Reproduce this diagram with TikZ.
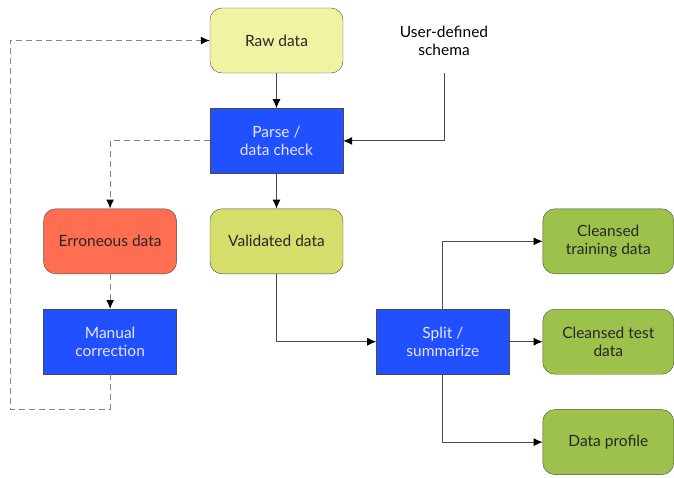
\documentclass[tikz,border=0pt]{standalone}
\usepackage{fontspec}
\setmainfont{Lato}
\usepackage{xcolor}
\definecolor{rawyellow}{HTML}{F0F4A2}
\definecolor{validgreen}{HTML}{D5DE6B}
\definecolor{errred}{HTML}{FF6E50}
\definecolor{procblue}{HTML}{2050FF}
\definecolor{outgreen}{HTML}{9DC24C}
\definecolor{edgegray}{HTML}{4A4A4A}
\definecolor{dashgray}{HTML}{858585}
\usetikzlibrary{arrows.meta,positioning}

\begin{document}
\begin{tikzpicture}[x=1pt,y=1pt,font=\fontsize{15.5}{18}\selectfont,node distance=35pt and 33pt,
  data/.style={draw=edgegray,rounded corners=12pt,align=center,text=black!85,
    minimum width=133pt,minimum height=65pt,inner sep=2pt},
  proc/.style={draw=edgegray,fill=procblue,align=center,text=white!90!blue,
    minimum width=133pt,minimum height=65pt,inner sep=2pt},
  arr/.style={-{Latex[length=9pt,width=8pt,color=black]},edgegray,line width=0.9pt},
  darr/.style={-{Latex[length=9pt,width=8pt,color=black]},dashgray,line width=1.1pt,dash pattern=on 6pt off 4pt}]
\useasboundingbox (0,0) rectangle (674,-477);
% input side
\node[data,fill=rawyellow] (raw) at (276.5,-40.5) {Raw data};
\node[proc,below=of raw] (parse) {Parse /\\data check};
\node[align=center,minimum height=65pt] (schema) at (444,-40.5) {User-defined\\schema};
\node[data,fill=validgreen,below=of parse] (valid) {Validated data};
% error loop
\node[data,fill=errred,left=of valid] (err) {Erroneous data};
\node[proc,below=of err] (manual) {Manual\\correction};
% outputs
\node[proc,below right=35pt and 33pt of valid] (split) {Split /\\summarize};
\node[data,fill=outgreen,minimum width=131pt,above right=35pt and 33pt of split] (train) {Cleansed\\training data};
\node[data,fill=outgreen,minimum width=131pt,right=of split] (test) {Cleansed test\\data};
\node[data,fill=outgreen,minimum width=131pt,below right=35pt and 33pt of split] (profile) {Data profile};
\draw[arr] (raw) -- (parse);
\draw[arr] (schema.south) |- (parse.east);
\draw[arr] (parse) -- (valid);
\draw[darr] (parse.west) -| (err.north);
\draw[darr] (err) -- (manual);
\draw[darr] (manual.south) |- ++(-100,-35) |- (raw.west);
\draw[arr] (valid.south) |- (split.west);
\draw[arr] (split.north) |- (train.west);
\draw[arr] (split) -- (test);
\draw[arr] (split.south) |- (profile.west);
\end{tikzpicture}
\end{document}
